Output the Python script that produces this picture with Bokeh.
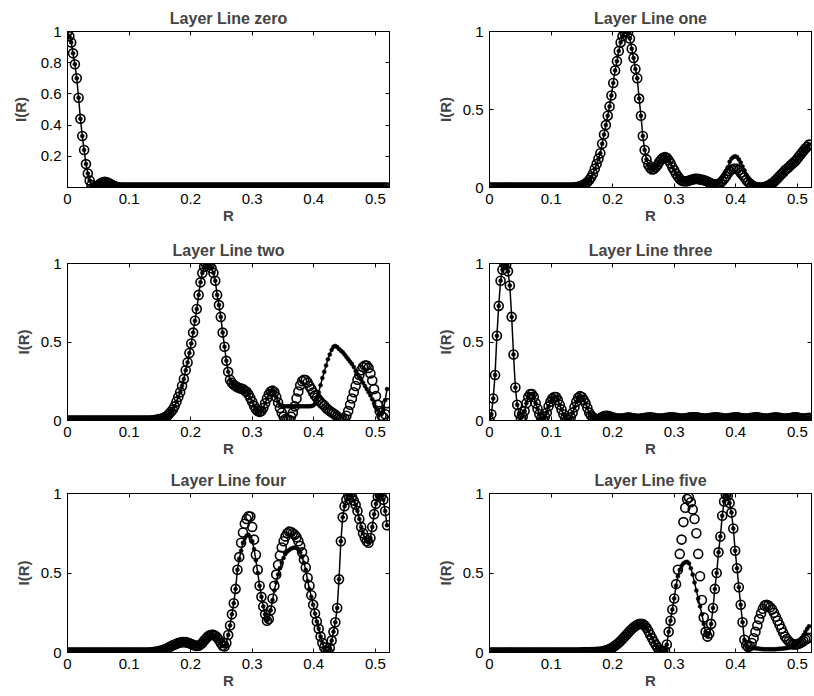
from bokeh.plotting import figure
from bokeh.layouts import gridplot
from bokeh.models import FixedTicker, LinearAxis, CustomJSTickFormatter, Range1d
from bokeh.embed import file_html
from bokeh.resources import INLINE

# sample grid of the radial coordinate R (uniform sampling step of the data)
R_STEP = 0.003
R = [round(i * R_STEP, 3) for i in range(174)]

X_TICKS = [0, 0.1, 0.2, 0.3, 0.4, 0.5]
Y_TICKS_ZERO = [0.2, 0.4, 0.6, 0.8, 1.0]
Y_TICKS = [0, 0.5, 1.0]
TITLES = ["Layer Line zero", "Layer Line one", "Layer Line two",
          "Layer Line three", "Layer Line four", "Layer Line five"]

LL0_obs = [
    1.0, 0.97, 0.93, 0.86, 0.79, 0.70, 0.575, 0.44, 0.33, 0.24,
    0.15, 0.09, 0.045, 0.015, 0.002, 0, 0.006, 0.017, 0.027, 0.033,
    0.036, 0.035, 0.03, 0.024, 0.017, 0.011, 0.006, 0.003, 0.001, 0,
    0, 0, 0, 0, 0, 0, 0, 0, 0, 0,
    0, 0, 0, 0, 0, 0, 0, 0, 0, 0,
    0, 0, 0, 0, 0, 0, 0, 0, 0, 0,
    0, 0, 0, 0, 0, 0, 0, 0, 0, 0,
    0, 0, 0, 0, 0, 0, 0, 0, 0, 0,
    0, 0, 0, 0, 0, 0, 0, 0, 0, 0,
    0, 0, 0, 0, 0, 0, 0, 0, 0, 0,
    0, 0, 0, 0, 0, 0, 0, 0, 0, 0,
    0, 0, 0, 0, 0, 0, 0, 0, 0, 0,
    0, 0, 0, 0, 0, 0, 0, 0, 0, 0,
    0, 0, 0, 0, 0, 0, 0, 0, 0, 0,
    0, 0, 0, 0, 0, 0, 0, 0, 0, 0,
    0, 0, 0, 0, 0, 0, 0, 0, 0, 0,
    0, 0, 0, 0, 0, 0, 0, 0, 0, 0,
    0, 0, 0, 0]
LL0_mod = [
    1.0, 0.97, 0.93, 0.86, 0.79, 0.70, 0.575, 0.44, 0.33, 0.24,
    0.15, 0.09, 0.045, 0.015, 0.002, 0, 0.006, 0.017, 0.027, 0.033,
    0.036, 0.035, 0.03, 0.024, 0.017, 0.011, 0.006, 0.003, 0.001, 0,
    0, 0, 0, 0, 0, 0, 0, 0, 0, 0,
    0, 0, 0, 0, 0, 0, 0, 0, 0, 0,
    0, 0, 0, 0, 0, 0, 0, 0, 0, 0,
    0, 0, 0, 0, 0, 0, 0, 0, 0, 0,
    0, 0, 0, 0, 0, 0, 0, 0, 0, 0,
    0, 0, 0, 0, 0, 0, 0, 0, 0, 0,
    0, 0, 0, 0, 0, 0, 0, 0, 0, 0,
    0, 0, 0, 0, 0, 0, 0, 0, 0, 0,
    0, 0, 0, 0, 0, 0, 0, 0, 0, 0,
    0, 0, 0, 0, 0, 0, 0, 0, 0, 0,
    0, 0, 0, 0, 0, 0, 0, 0, 0, 0,
    0, 0, 0, 0, 0, 0, 0, 0, 0, 0,
    0, 0, 0, 0, 0, 0, 0, 0, 0, 0,
    0, 0, 0, 0, 0, 0, 0, 0, 0, 0,
    0, 0, 0, 0]

LL1_obs = [
    0, 0, 0, 0, 0, 0, 0, 0, 0, 0,
    0, 0, 0, 0, 0, 0, 0, 0, 0, 0,
    0, 0, 0, 0, 0, 0, 0, 0, 0, 0,
    0, 0, 0, 0, 0, 0, 0, 0, 0, 0,
    0, 0, 0, 0, 0, 0, 0.002, 0.003, 0.005, 0.008,
    0.012, 0.018, 0.025, 0.035, 0.048, 0.065, 0.088, 0.12, 0.15, 0.185,
    0.22, 0.28, 0.34, 0.40, 0.46, 0.52, 0.59, 0.67, 0.75, 0.81,
    0.875, 0.93, 0.97, 0.995, 1.0, 0.99, 0.955, 0.89, 0.83, 0.76,
    0.70, 0.57, 0.46, 0.33, 0.24, 0.18, 0.145, 0.125, 0.115, 0.118,
    0.13, 0.145, 0.165, 0.18, 0.19, 0.195, 0.19, 0.175, 0.155, 0.13,
    0.11, 0.088, 0.07, 0.055, 0.045, 0.04, 0.04, 0.04, 0.045, 0.048,
    0.052, 0.055, 0.055, 0.055, 0.052, 0.05, 0.047, 0.043, 0.038, 0.032,
    0.025, 0.022, 0.02, 0.02, 0.022, 0.03, 0.04, 0.055, 0.07, 0.09,
    0.105, 0.115, 0.12, 0.12, 0.12, 0.11, 0.095, 0.08, 0.065, 0.048,
    0.035, 0.025, 0.015, 0.008, 0.004, 0.001, 0, 0, 0, 0.003,
    0.008, 0.013, 0.02, 0.027, 0.036, 0.048, 0.06, 0.072, 0.085, 0.096,
    0.11, 0.12, 0.13, 0.142, 0.153, 0.163, 0.175, 0.19, 0.205, 0.22,
    0.235, 0.25, 0.262, 0.275]
LL1_mod = [
    0, 0, 0, 0, 0, 0, 0, 0, 0, 0,
    0, 0, 0, 0, 0, 0, 0, 0, 0, 0,
    0, 0, 0, 0, 0, 0, 0, 0, 0, 0,
    0, 0, 0, 0, 0, 0, 0, 0, 0, 0,
    0, 0, 0, 0, 0, 0, 0.002, 0.003, 0.005, 0.008,
    0.012, 0.018, 0.025, 0.035, 0.048, 0.065, 0.088, 0.12, 0.15, 0.185,
    0.22, 0.28, 0.34, 0.40, 0.46, 0.52, 0.59, 0.67, 0.75, 0.81,
    0.875, 0.93, 0.97, 0.995, 1.0, 0.99, 0.955, 0.89, 0.83, 0.76,
    0.70, 0.57, 0.46, 0.33, 0.24, 0.18, 0.145, 0.125, 0.115, 0.118,
    0.13, 0.145, 0.165, 0.18, 0.19, 0.195, 0.19, 0.175, 0.155, 0.13,
    0.11, 0.088, 0.07, 0.055, 0.045, 0.04, 0.04, 0.04, 0.045, 0.048,
    0.052, 0.055, 0.055, 0.055, 0.052, 0.05, 0.047, 0.043, 0.038, 0.032,
    0.025, 0.022, 0.02, 0.022, 0.03, 0.045, 0.06, 0.08, 0.105, 0.13,
    0.165, 0.185, 0.195, 0.2, 0.195, 0.18, 0.16, 0.135, 0.11, 0.08,
    0.06, 0.04, 0.025, 0.015, 0.008, 0.003, 0, 0, 0, 0.003,
    0.008, 0.013, 0.02, 0.027, 0.036, 0.048, 0.06, 0.072, 0.085, 0.096,
    0.11, 0.12, 0.13, 0.142, 0.153, 0.163, 0.175, 0.19, 0.205, 0.22,
    0.235, 0.25, 0.262, 0.275]

LL2_obs = [
    0, 0, 0, 0, 0, 0, 0, 0, 0, 0,
    0, 0, 0, 0, 0, 0, 0, 0, 0, 0,
    0, 0, 0, 0, 0, 0, 0, 0, 0, 0,
    0, 0, 0, 0, 0, 0, 0, 0, 0, 0,
    0, 0, 0, 0, 0, 0, 0.002, 0.003, 0.005, 0.007,
    0.01, 0.013, 0.017, 0.022, 0.03, 0.042, 0.055, 0.07, 0.09, 0.12,
    0.15, 0.18, 0.22, 0.265, 0.32, 0.37, 0.43, 0.49, 0.56, 0.635,
    0.71, 0.80, 0.88, 0.94, 0.98, 0.997, 1.0, 0.99, 0.97, 0.94,
    0.89, 0.80, 0.735, 0.66, 0.56, 0.47, 0.38, 0.31, 0.26, 0.24,
    0.228, 0.22, 0.212, 0.207, 0.203, 0.2, 0.19, 0.183, 0.165, 0.143,
    0.12, 0.094, 0.072, 0.06, 0.055, 0.06, 0.08, 0.11, 0.14, 0.168,
    0.185, 0.19, 0.182, 0.15, 0.115, 0.08, 0.05, 0.025, 0.01, 0.005,
    0.005, 0.025, 0.05, 0.09, 0.14, 0.185, 0.225, 0.25, 0.26, 0.257,
    0.242, 0.22, 0.2, 0.178, 0.16, 0.145, 0.13, 0.117, 0.105, 0.095,
    0.08, 0.07, 0.06, 0.052, 0.045, 0.037, 0.025, 0.015, 0.008, 0.005,
    0.012, 0.03, 0.06, 0.1, 0.14, 0.18, 0.22, 0.26, 0.29, 0.32,
    0.34, 0.35, 0.35, 0.335, 0.30, 0.255, 0.2, 0.155, 0.1, 0.06,
    0.03, 0.02, 0.04, 0.11]
LL2_mod = [
    0, 0, 0, 0, 0, 0, 0, 0, 0, 0,
    0, 0, 0, 0, 0, 0, 0, 0, 0, 0,
    0, 0, 0, 0, 0, 0, 0, 0, 0, 0,
    0, 0, 0, 0, 0, 0, 0, 0, 0, 0,
    0, 0, 0, 0, 0, 0, 0.002, 0.003, 0.005, 0.007,
    0.01, 0.013, 0.017, 0.022, 0.03, 0.042, 0.055, 0.07, 0.09, 0.12,
    0.15, 0.18, 0.22, 0.265, 0.32, 0.37, 0.43, 0.49, 0.56, 0.635,
    0.71, 0.80, 0.88, 0.94, 0.98, 0.997, 1.0, 0.99, 0.97, 0.94,
    0.89, 0.80, 0.735, 0.66, 0.56, 0.47, 0.38, 0.31, 0.26, 0.24,
    0.228, 0.22, 0.212, 0.207, 0.203, 0.2, 0.19, 0.183, 0.165, 0.143,
    0.12, 0.094, 0.072, 0.06, 0.055, 0.06, 0.08, 0.11, 0.14, 0.168,
    0.185, 0.19, 0.182, 0.15, 0.12, 0.10, 0.093, 0.09, 0.09, 0.09,
    0.09, 0.09, 0.09, 0.09, 0.09, 0.09, 0.09, 0.09, 0.09, 0.09,
    0.09, 0.09, 0.092, 0.095, 0.105, 0.135, 0.18, 0.225, 0.27, 0.31,
    0.35, 0.39, 0.42, 0.45, 0.47, 0.475, 0.468, 0.455, 0.445, 0.435,
    0.42, 0.405, 0.39, 0.375, 0.36, 0.34, 0.315, 0.295, 0.275, 0.26,
    0.24, 0.22, 0.2, 0.18, 0.16, 0.135, 0.11, 0.085, 0.065, 0.04,
    0.04, 0.07, 0.13, 0.2]

LL3_obs = [
    0, 0.04, 0.14, 0.29, 0.54, 0.73, 0.89, 0.96, 1.0, 0.99,
    0.95, 0.86, 0.66, 0.42, 0.21, 0.10, 0.045, 0.015, 0.025, 0.06,
    0.11, 0.15, 0.168, 0.168, 0.15, 0.11, 0.075, 0.04, 0.015, 0.01,
    0.025, 0.05, 0.09, 0.12, 0.14, 0.15, 0.15, 0.13, 0.10, 0.07,
    0.04, 0.015, 0.006, 0.007, 0.02, 0.05, 0.085, 0.12, 0.145, 0.155,
    0.15, 0.13, 0.11, 0.08, 0.05, 0.032, 0.02, 0.012, 0.01, 0.01,
    0.015, 0.022, 0.028, 0.03, 0.03, 0.027, 0.022, 0.018, 0.015, 0.013,
    0.012, 0.012, 0.013, 0.015, 0.017, 0.018, 0.018, 0.016, 0.014, 0.012,
    0.011, 0.011, 0.012, 0.014, 0.016, 0.018, 0.019, 0.02, 0.019, 0.017,
    0.015, 0.013, 0.012, 0.012, 0.013, 0.015, 0.017, 0.019, 0.02, 0.02,
    0.019, 0.017, 0.015, 0.013, 0.012, 0.012, 0.014, 0.016, 0.018, 0.02,
    0.021, 0.021, 0.02, 0.018, 0.016, 0.014, 0.012, 0.012, 0.013, 0.015,
    0.017, 0.019, 0.02, 0.02, 0.019, 0.017, 0.015, 0.013, 0.012, 0.013,
    0.015, 0.017, 0.019, 0.02, 0.02, 0.018, 0.016, 0.014, 0.012, 0.012,
    0.013, 0.015, 0.017, 0.019, 0.02, 0.02, 0.018, 0.016, 0.014, 0.013,
    0.012, 0.013, 0.015, 0.017, 0.019, 0.02, 0.019, 0.017, 0.015, 0.013,
    0.012, 0.012, 0.014, 0.016, 0.018, 0.02, 0.02, 0.018, 0.016, 0.014,
    0.013, 0.013, 0.015, 0.017]
LL3_mod = [
    0, 0.04, 0.14, 0.29, 0.54, 0.73, 0.89, 0.96, 1.0, 0.99,
    0.95, 0.86, 0.66, 0.42, 0.21, 0.10, 0.045, 0.015, 0.025, 0.06,
    0.11, 0.15, 0.168, 0.168, 0.15, 0.11, 0.075, 0.04, 0.015, 0.01,
    0.025, 0.05, 0.09, 0.12, 0.14, 0.15, 0.15, 0.13, 0.10, 0.07,
    0.04, 0.015, 0.006, 0.007, 0.02, 0.05, 0.085, 0.12, 0.145, 0.155,
    0.15, 0.13, 0.11, 0.08, 0.05, 0.032, 0.02, 0.012, 0.01, 0.01,
    0.015, 0.022, 0.028, 0.03, 0.03, 0.027, 0.022, 0.018, 0.015, 0.013,
    0.012, 0.012, 0.013, 0.015, 0.017, 0.018, 0.018, 0.016, 0.014, 0.012,
    0.011, 0.011, 0.012, 0.014, 0.016, 0.018, 0.019, 0.02, 0.019, 0.017,
    0.015, 0.013, 0.012, 0.012, 0.013, 0.015, 0.017, 0.019, 0.02, 0.02,
    0.019, 0.017, 0.015, 0.013, 0.012, 0.012, 0.014, 0.016, 0.018, 0.02,
    0.021, 0.021, 0.02, 0.018, 0.016, 0.014, 0.012, 0.012, 0.013, 0.015,
    0.017, 0.019, 0.02, 0.02, 0.019, 0.017, 0.015, 0.013, 0.012, 0.013,
    0.015, 0.017, 0.019, 0.02, 0.02, 0.018, 0.016, 0.014, 0.012, 0.012,
    0.013, 0.015, 0.017, 0.019, 0.02, 0.02, 0.018, 0.016, 0.014, 0.013,
    0.012, 0.013, 0.015, 0.017, 0.019, 0.02, 0.019, 0.017, 0.015, 0.013,
    0.012, 0.012, 0.014, 0.016, 0.018, 0.02, 0.02, 0.018, 0.016, 0.014,
    0.013, 0.013, 0.015, 0.017]

LL4_obs = [
    0, 0, 0, 0, 0, 0, 0, 0, 0, 0,
    0, 0, 0, 0, 0, 0, 0, 0, 0, 0,
    0, 0, 0, 0, 0, 0, 0, 0, 0, 0,
    0, 0, 0, 0, 0, 0, 0, 0, 0, 0,
    0, 0, 0, 0, 0, 0.001, 0.002, 0.004, 0.005, 0.007,
    0.01, 0.013, 0.017, 0.022, 0.027, 0.033, 0.039, 0.045, 0.05, 0.055,
    0.06, 0.063, 0.065, 0.066, 0.065, 0.062, 0.058, 0.053, 0.048, 0.044,
    0.041, 0.042, 0.05, 0.06, 0.075, 0.088, 0.1, 0.108, 0.112, 0.111,
    0.105, 0.095, 0.078, 0.06, 0.042, 0.038, 0.06, 0.11, 0.17, 0.24,
    0.31, 0.40, 0.52, 0.60, 0.69, 0.755, 0.81, 0.84, 0.857, 0.855,
    0.79, 0.71, 0.615, 0.52, 0.42, 0.35, 0.29, 0.24, 0.2, 0.21,
    0.265, 0.34, 0.42, 0.49, 0.55, 0.61, 0.66, 0.70, 0.73, 0.75,
    0.76, 0.758, 0.75, 0.74, 0.725, 0.70, 0.67, 0.63, 0.585, 0.535,
    0.47, 0.42, 0.36, 0.30, 0.245, 0.195, 0.15, 0.1, 0.06, 0.032,
    0.01, 0.004, 0.03, 0.075, 0.13, 0.19, 0.28, 0.46, 0.70, 0.85,
    0.92, 0.96, 0.99, 0.995, 0.98, 0.955, 0.93, 0.89, 0.84, 0.79,
    0.75, 0.72, 0.70, 0.69, 0.72, 0.79, 0.87, 0.935, 0.98, 0.998,
    0.99, 0.96, 0.89, 0.80]
LL4_mod = [
    0, 0, 0, 0, 0, 0, 0, 0, 0, 0,
    0, 0, 0, 0, 0, 0, 0, 0, 0, 0,
    0, 0, 0, 0, 0, 0, 0, 0, 0, 0,
    0, 0, 0, 0, 0, 0, 0, 0, 0, 0,
    0, 0, 0, 0, 0, 0.001, 0.002, 0.004, 0.005, 0.007,
    0.01, 0.013, 0.017, 0.022, 0.027, 0.033, 0.039, 0.045, 0.05, 0.055,
    0.06, 0.063, 0.065, 0.066, 0.065, 0.062, 0.058, 0.053, 0.048, 0.044,
    0.041, 0.042, 0.05, 0.06, 0.075, 0.088, 0.1, 0.108, 0.112, 0.111,
    0.105, 0.095, 0.078, 0.06, 0.042, 0.038, 0.06, 0.11, 0.17, 0.24,
    0.31, 0.40, 0.52, 0.59, 0.64, 0.69, 0.72, 0.735, 0.74, 0.725,
    0.70, 0.65, 0.58, 0.50, 0.42, 0.35, 0.29, 0.24, 0.2, 0.21,
    0.265, 0.33, 0.39, 0.44, 0.49, 0.53, 0.565, 0.595, 0.62, 0.635,
    0.645, 0.653, 0.658, 0.66, 0.657, 0.648, 0.63, 0.60, 0.565, 0.52,
    0.45, 0.40, 0.35, 0.30, 0.245, 0.195, 0.15, 0.1, 0.06, 0.032,
    0.01, 0.004, 0.03, 0.075, 0.13, 0.19, 0.28, 0.46, 0.70, 0.85,
    0.92, 0.96, 0.99, 0.995, 0.98, 0.955, 0.93, 0.89, 0.84, 0.79,
    0.75, 0.72, 0.70, 0.69, 0.72, 0.79, 0.87, 0.935, 0.98, 0.998,
    0.99, 0.96, 0.89, 0.80]

LL5_obs = [
    0, 0, 0, 0, 0, 0, 0, 0, 0, 0,
    0, 0, 0, 0, 0, 0, 0, 0, 0, 0,
    0, 0, 0, 0, 0, 0, 0, 0, 0, 0,
    0, 0, 0, 0, 0, 0, 0, 0, 0, 0,
    0, 0, 0, 0, 0, 0, 0, 0, 0, 0,
    0.001, 0.001, 0.002, 0.002, 0.002, 0.003, 0.003, 0.003, 0.004, 0.004,
    0.005, 0.007, 0.01, 0.013, 0.017, 0.022, 0.028, 0.035, 0.043, 0.052,
    0.062, 0.073, 0.085, 0.097, 0.11, 0.123, 0.135, 0.147, 0.158, 0.167,
    0.175, 0.179, 0.18, 0.179, 0.17, 0.155, 0.135, 0.112, 0.09, 0.068,
    0.048, 0.03, 0.015, 0.007, 0.004, 0.01, 0.05, 0.13, 0.2, 0.27,
    0.34, 0.43, 0.52, 0.62, 0.71, 0.82, 0.91, 0.965, 0.975, 0.945,
    0.9, 0.84, 0.75, 0.62, 0.48, 0.33, 0.22, 0.13, 0.1, 0.12,
    0.18, 0.28, 0.40, 0.50, 0.63, 0.73, 0.86, 0.95, 0.99, 0.985,
    0.94, 0.88, 0.78, 0.64, 0.53, 0.41, 0.30, 0.19, 0.08, 0.045,
    0.035, 0.04, 0.06, 0.09, 0.13, 0.17, 0.21, 0.245, 0.275, 0.295,
    0.3, 0.295, 0.285, 0.27, 0.25, 0.225, 0.2, 0.175, 0.15, 0.125,
    0.1, 0.085, 0.07, 0.06, 0.052, 0.05, 0.05, 0.053, 0.058, 0.065,
    0.072, 0.08, 0.087, 0.093]
LL5_mod = [
    0, 0, 0, 0, 0, 0, 0, 0, 0, 0,
    0, 0, 0, 0, 0, 0, 0, 0, 0, 0,
    0, 0, 0, 0, 0, 0, 0, 0, 0, 0,
    0, 0, 0, 0, 0, 0, 0, 0, 0, 0,
    0, 0, 0, 0, 0, 0, 0, 0, 0, 0,
    0.001, 0.001, 0.002, 0.002, 0.002, 0.003, 0.003, 0.003, 0.004, 0.004,
    0.005, 0.007, 0.01, 0.013, 0.017, 0.022, 0.028, 0.035, 0.043, 0.052,
    0.062, 0.073, 0.085, 0.097, 0.11, 0.123, 0.135, 0.147, 0.158, 0.167,
    0.175, 0.179, 0.18, 0.179, 0.17, 0.155, 0.135, 0.112, 0.09, 0.068,
    0.048, 0.03, 0.015, 0.007, 0.004, 0.01, 0.05, 0.13, 0.2, 0.27,
    0.34, 0.42, 0.48, 0.52, 0.545, 0.56, 0.568, 0.57, 0.56, 0.53,
    0.49, 0.44, 0.39, 0.34, 0.29, 0.24, 0.18, 0.13, 0.1, 0.12,
    0.18, 0.28, 0.40, 0.50, 0.63, 0.73, 0.86, 0.95, 0.99, 0.985,
    0.94, 0.88, 0.78, 0.64, 0.53, 0.41, 0.30, 0.19, 0.08, 0.045,
    0.035, 0.032, 0.03, 0.028, 0.026, 0.025, 0.024, 0.022, 0.021, 0.02,
    0.02, 0.02, 0.02, 0.02, 0.02, 0.021, 0.022, 0.023, 0.024, 0.025,
    0.026, 0.028, 0.03, 0.033, 0.037, 0.043, 0.05, 0.06, 0.075, 0.092,
    0.11, 0.13, 0.15, 0.165]

OBS = [LL0_obs, LL1_obs, LL2_obs, LL3_obs, LL4_obs, LL5_obs]
MOD = [LL0_mod, LL1_mod, LL2_mod, LL3_mod, LL4_mod, LL5_mod]
for a in OBS + MOD:
    assert len(a) == len(R), len(a)

FONT = "Liberation Sans"
COL_ML = [67, 66]
COL_MR = [34, 3]
ROW_MT = [31, 31, 30]
ROW_FH = [156, 157, 159]
ROW_MB = [45, 43, 44]

label_fmt = CustomJSTickFormatter(code="return String(Math.round(tick*10)/10);")


def style_axis(ax, ticks, fs="15px"):
    ax.ticker = FixedTicker(ticks=ticks, minor_ticks=[])
    ax.major_tick_in = 4
    ax.major_tick_out = 0
    ax.minor_tick_in = 0
    ax.minor_tick_out = 0
    ax.axis_line_color = "black"
    ax.major_tick_line_color = "black"
    ax.major_label_text_font = FONT
    ax.major_label_text_font_size = fs
    ax.major_label_text_color = "black"


figs = []
for k in range(6):
    r, c = divmod(k, 2)
    yt = Y_TICKS_ZERO if k == 0 else Y_TICKS
    p = figure(frame_width=322, frame_height=ROW_FH[r],
               min_border_left=COL_ML[c], min_border_right=COL_MR[c],
               min_border_top=ROW_MT[r], min_border_bottom=ROW_MB[r],
               x_range=Range1d(0, 0.523), y_range=Range1d(0, 1),
               output_backend="svg", toolbar_location=None,
               title=TITLES[k])
    p.title.text_font = FONT
    p.title.text_font_size = "16px"
    p.title.text_font_style = "bold"
    p.title.align = "center"
    p.title.standoff = 10
    p.grid.visible = False
    p.outline_line_color = "black"
    p.outline_line_width = 1
    p.background_fill_color = "white"
    p.border_fill_color = "white"

    xa = p.xaxis[0]
    style_axis(xa, X_TICKS)
    xa.formatter = label_fmt
    xa.major_label_standoff = 6
    xa.axis_label = "R"
    xa.axis_label_text_font = FONT
    xa.axis_label_text_font_size = "15px"
    xa.axis_label_text_font_style = "bold"
    xa.axis_label_standoff = 0

    ya = p.yaxis[0]
    style_axis(ya, yt)
    ya.formatter = label_fmt
    ya.major_label_standoff = 6
    ya.axis_label = "I(R)"
    ya.axis_label_text_font = FONT
    ya.axis_label_text_font_size = "15px"
    ya.axis_label_text_font_style = "bold"
    ya.axis_label_standoff = 9 if k == 0 else 6

    top = LinearAxis(formatter=CustomJSTickFormatter(code="return '';"))
    style_axis(top, X_TICKS)
    top.major_label_standoff = 0
    p.add_layout(top, "above")
    right = LinearAxis(formatter=CustomJSTickFormatter(code="return '';"))
    style_axis(right, yt)
    right.major_label_standoff = 0
    p.add_layout(right, "right")

    p.scatter(R, OBS[k], marker="circle", size=9, fill_color=None,
              line_color="black", line_width=1.6)
    p.line(R, MOD[k], line_color="black", line_width=1.5)
    p.scatter(R, MOD[k], marker="circle", size=4, fill_color="black",
              line_color="black", line_width=0.5)
    figs.append(p)

grid = gridplot([[figs[0], figs[1]], [figs[2], figs[3]], [figs[4], figs[5]]],
                toolbar_location=None)

open("out.html", "w").write(file_html(grid, INLINE))
